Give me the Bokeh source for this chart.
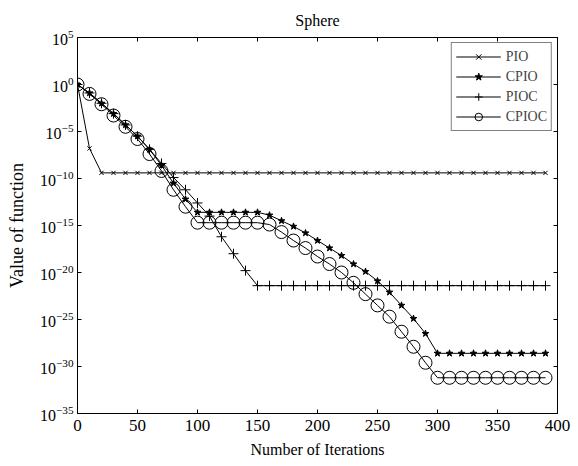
from bokeh.plotting import figure
from bokeh.models import FixedTicker, LogAxis, LinearAxis
from bokeh.embed import file_html
from bokeh.resources import INLINE

# Iteration numbers (markers every 10 iterations)
iterations = [0, 10, 20, 30, 40, 50, 60, 70, 80, 90,
              100, 110, 120, 130, 140, 150, 160, 170, 180, 190,
              200, 210, 220, 230, 240, 250, 260, 270, 280, 290,
              300, 310, 320, 330, 340, 350, 360, 370, 380, 390]

# log10 of the function value
pio_exp = [0.0, -6.8, -9.4, -9.4, -9.4, -9.4, -9.4, -9.4, -9.4, -9.4,
           -9.4, -9.4, -9.4, -9.4, -9.4, -9.4, -9.4, -9.4, -9.4, -9.4,
           -9.4, -9.4, -9.4, -9.4, -9.4, -9.4, -9.4, -9.4, -9.4, -9.4,
           -9.4, -9.4, -9.4, -9.4, -9.4, -9.4, -9.4, -9.4, -9.4, -9.4]
cpio_exp = [0.0, -0.9, -2.0, -3.1, -4.3, -5.5, -6.9, -8.6, -10.5, -12.2,
            -13.6, -13.6, -13.6, -13.6, -13.6, -13.6, -13.9, -14.5, -15.1, -15.8,
            -16.6, -17.4, -18.2, -19.1, -19.9, -20.9, -22.1, -23.5, -24.9, -26.5,
            -28.6, -28.6, -28.6, -28.6, -28.6, -28.6, -28.6, -28.6, -28.6, -28.6]
pioc_exp = [0.0, -0.9, -2.0, -3.1, -4.3, -5.5, -6.9, -8.4, -9.9, -11.2,
            -12.6, -14.0, -16.2, -18.0, -19.8, -21.4, -21.4, -21.4, -21.4, -21.4,
            -21.4, -21.4, -21.4, -21.4, -21.4, -21.4, -21.4, -21.4, -21.4, -21.4,
            -21.4, -21.4, -21.4, -21.4, -21.4, -21.4, -21.4, -21.4, -21.4, -21.4]
cpioc_exp = [0.0, -1.0, -2.1, -3.3, -4.5, -5.8, -7.4, -9.2, -11.2, -13.0,
             -14.7, -14.7, -14.7, -14.7, -14.7, -14.7, -14.9, -15.7, -16.6, -17.4,
             -18.3, -19.1, -20.0, -21.1, -22.3, -23.5, -24.7, -26.3, -27.9, -29.6,
             -31.2, -31.2, -31.2, -31.2, -31.2, -31.2, -31.2, -31.2, -31.2, -31.2]

series_names = ["PIO", "CPIO", "PIOC", "CPIOC"]
x_ticks = [0, 50, 100, 150, 200, 250, 300, 350, 400]
y_ticks = [1e5, 1e0, 1e-5, 1e-10, 1e-15, 1e-20, 1e-25, 1e-30, 1e-35]

FONT = "Liberation Serif"

p = figure(frame_width=480, frame_height=376,
           min_border_left=77, min_border_right=21,
           min_border_top=37, min_border_bottom=53,
           x_range=(0, 400), y_range=(1e-35, 1e5), y_axis_type="log",
           output_backend="svg", toolbar_location=None, title="Sphere")

p.background_fill_color = "white"
p.border_fill_color = "white"
p.outline_line_color = "black"
p.grid.visible = False

p.title.align = "center"
p.title.text_font = FONT
p.title.text_font_style = "normal"
p.title.text_font_size = "16px"
p.title.text_color = "black"
p.title.standoff = 18

for ax in (p.xaxis[0], p.yaxis[0]):
    ax.major_tick_in = 4
    ax.major_tick_out = 0
    ax.minor_tick_line_color = None
    ax.axis_line_color = "black"
    ax.major_tick_line_color = "black"
    ax.major_label_text_font = FONT
    ax.major_label_text_font_size = "16px"
    ax.major_label_text_color = "black"
    ax.axis_label_text_font = FONT
    ax.axis_label_text_font_style = "normal"
    ax.axis_label_text_color = "black"

p.xaxis.ticker = FixedTicker(ticks=x_ticks)
p.yaxis.ticker = FixedTicker(ticks=y_ticks)
p.xaxis.major_label_text_font_size = "17px"
p.xaxis.axis_label = "Number of Iterations"
p.yaxis.axis_label = "Value of function"
p.xaxis.axis_label_text_font_size = "16px"
p.yaxis.axis_label_text_font_size = "18px"
p.xaxis.major_label_standoff = 6
p.yaxis.major_label_standoff = 4
p.xaxis.axis_label_standoff = 7
p.yaxis.axis_label_standoff = 10

top = LinearAxis(ticker=FixedTicker(ticks=x_ticks), major_tick_in=4, major_tick_out=0,
                 minor_tick_line_color=None, major_label_text_font_size="1px",
                 major_label_text_alpha=0, major_label_standoff=0,
                 axis_line_color="black")
right = LogAxis(ticker=FixedTicker(ticks=y_ticks), major_tick_in=4, major_tick_out=0,
                minor_tick_line_color=None, major_label_text_font_size="1px",
                major_label_text_alpha=0, major_label_standoff=0,
                axis_line_color="black")
p.add_layout(top, "above")
p.add_layout(right, "right")

exps = [pio_exp, cpio_exp, pioc_exp, cpioc_exp]
markers = ["x", "star", "cross", "circle"]
sizes = [6, 7, 10, 13]

for name, e, m, s in zip(series_names, exps, markers, sizes):
    vals = [10 ** v for v in e]
    p.line(iterations, vals, line_color="black", line_width=1, legend_label=name)
    p.scatter(iterations, vals, marker=m, size=s, line_color="black",
              fill_color="white" if m == "circle" else "black",
              fill_alpha=0 if m == "circle" else 1, line_width=1,
              legend_label=name)

lg = p.legend[0]
lg.location = "top_right"
lg.border_line_color = "black"
lg.border_line_width = 1
lg.background_fill_color = "white"
lg.background_fill_alpha = 1
lg.label_text_font = FONT
lg.label_text_font_size = "14px"
lg.glyph_width = 45
lg.glyph_height = 19
lg.label_height = 19
lg.label_standoff = 5
lg.spacing = 1
lg.padding = 4
lg.margin = 5

open("out.html", "w").write(file_html(p, INLINE))
